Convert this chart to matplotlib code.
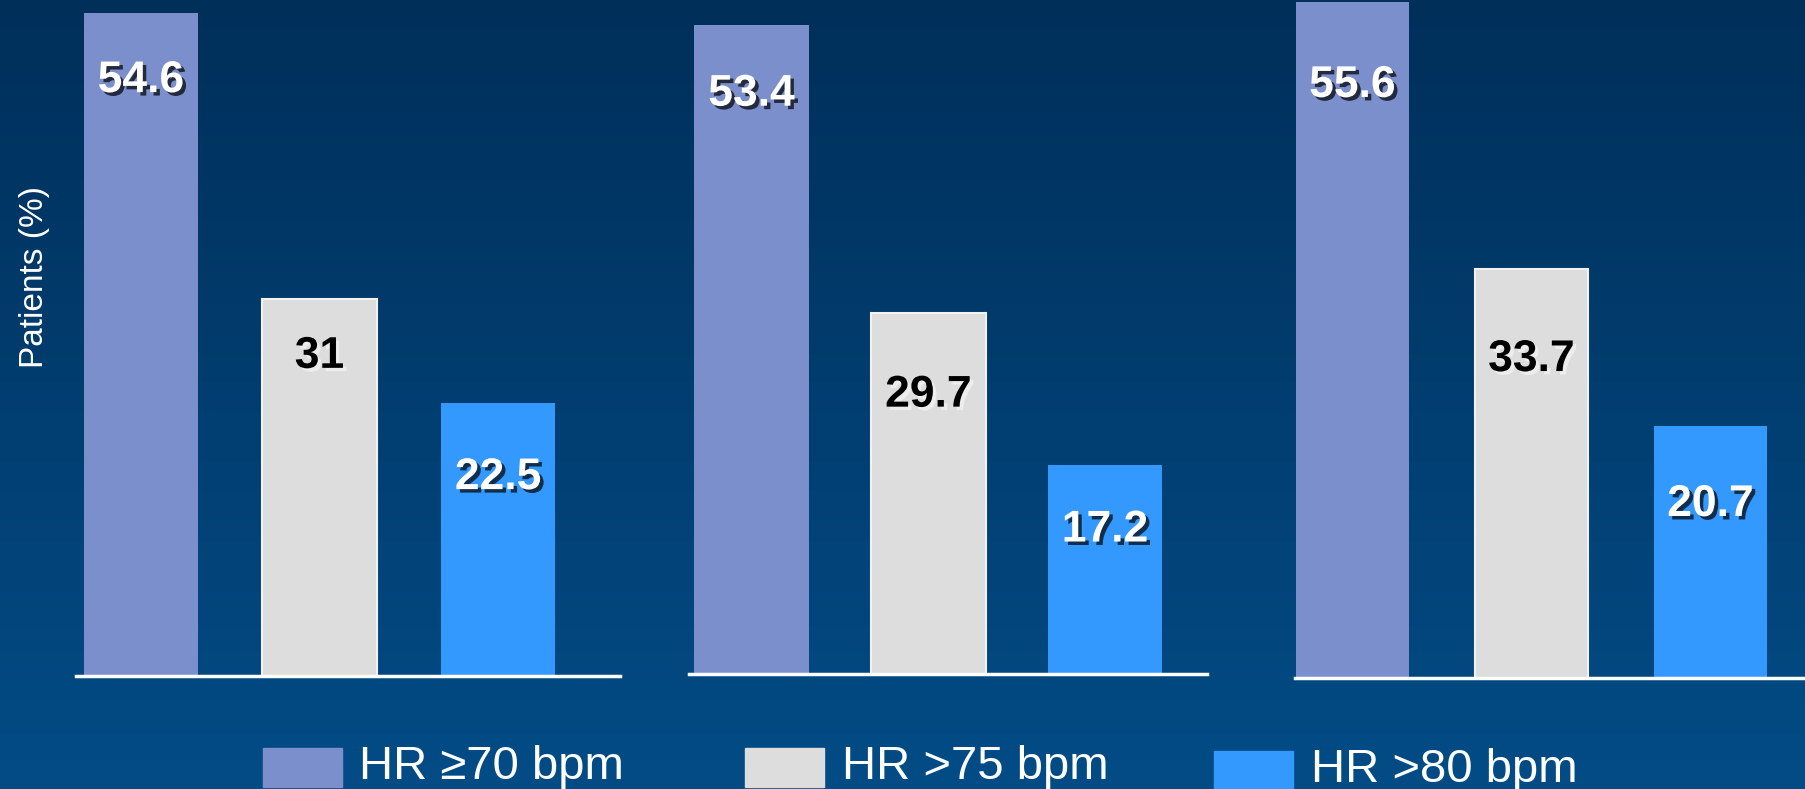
import matplotlib
matplotlib.use('Agg')
import matplotlib.pyplot as plt
import matplotlib.patheffects as pe
from matplotlib.patches import Rectangle
from matplotlib.colors import LinearSegmentedColormap
import numpy as np

# Share of patients above each heart-rate threshold, three groups
series_labels = ["HR \u226570 bpm", "HR >75 bpm", "HR >80 bpm"]
group_values = [
    [54.6, 31.0, 22.5],
    [53.4, 29.7, 17.2],
    [55.6, 33.7, 20.7],
]
value_text = [
    ["54.6", "31", "22.5"],
    ["53.4", "29.7", "17.2"],
    ["55.6", "33.7", "20.7"],
]

bar_colors = ['#7b8fcc', '#dddddd', '#3399ff']
text_colors = ['white', 'black', 'white']
shadow_colors = ['black', '#f4f4f4', 'black']

plt.rcParams['font.family'] = ['Liberation Sans', 'DejaVu Sans']

W, H = 1806, 789
fig = plt.figure(figsize=(W / 100, H / 100), dpi=100)

# vertical background gradient
bg = fig.add_axes([0, 0, 1, 1], zorder=-10)
cmap = LinearSegmentedColormap.from_list('bg', ['#002f5a', '#034c86'])
bg.imshow(np.linspace(0, 1, 256).reshape(-1, 1), aspect='auto', cmap=cmap,
          extent=[0, 1, 0, 1], origin='upper')
bg.axis('off')

px_per_unit = 12.15
# axis-line extents (px), baseline (px from top), x limits and bar width per panel
panels = [
    dict(x0=76, x1=620, base=676, xlim=(-0.364, 2.683), width=0.64),
    dict(x0=689, x1=1207, base=674, xlim=(-0.354, 2.577), width=0.65),
    dict(x0=1295, x1=1803, base=678, xlim=(-0.321, 2.517), width=0.63),
]
# how far below the bar top each value label sits (px)
label_drop = [[68, 57, 75], [69, 82, 65], [83, 91, 78]]

ymax = 56
for gi, (vals, p) in enumerate(zip(group_values, panels)):
    height_px = ymax * px_per_unit
    ax = fig.add_axes([p['x0'] / W, (H - p['base']) / H,
                       (p['x1'] - p['x0']) / W, height_px / H])
    ax.patch.set_alpha(0)
    x = np.arange(len(vals))
    bars = ax.bar(x, vals, width=p['width'], color=bar_colors, zorder=2)
    bars[1].set_edgecolor('#f2f2f2')
    bars[1].set_linewidth(1.5)
    ax.set_xlim(*p['xlim'])
    ax.set_ylim(0, ymax)
    for s in ['top', 'right', 'left']:
        ax.spines[s].set_visible(False)
    ax.spines['bottom'].set_color('white')
    ax.spines['bottom'].set_linewidth(2.5)
    ax.spines['bottom'].set_zorder(3)
    ax.set_xticks([])
    ax.set_yticks([])

    for i, v in enumerate(vals):
        ax.annotate(value_text[gi][i], (x[i], v), xytext=(0, -label_drop[gi][i]),
                    textcoords='offset pixels', ha='center', va='center',
                    fontsize=32, fontweight='bold', color=text_colors[i], zorder=4,
                    path_effects=[pe.withSimplePatchShadow(offset=(2.5, -2.5),
                                                           shadow_rgbFace=shadow_colors[i],
                                                           alpha=0.7)])

fig.text(35 / W, (H - 277) / H, "Patients (%)", rotation=90, color='white',
         fontsize=24, ha='center', va='center')

# legend drawn along the bottom edge
legend_items = [
    dict(px=263, py=748, tx=359, ty=767),
    dict(px=745, py=748, tx=842, ty=767),
    dict(px=1214, py=751, tx=1311, ty=770),
]
for lab, col, it in zip(series_labels, bar_colors, legend_items):
    fig.patches.append(Rectangle((it['px'] / W, (H - it['py'] - 39) / H), 79 / W, 39 / H,
                                 transform=fig.transFigure, color=col, zorder=5))
    fig.text(it['tx'] / W, (H - it['ty']) / H, lab, color='white', fontsize=34,
             ha='left', va='center')

fig.savefig('out.png', dpi=100)
